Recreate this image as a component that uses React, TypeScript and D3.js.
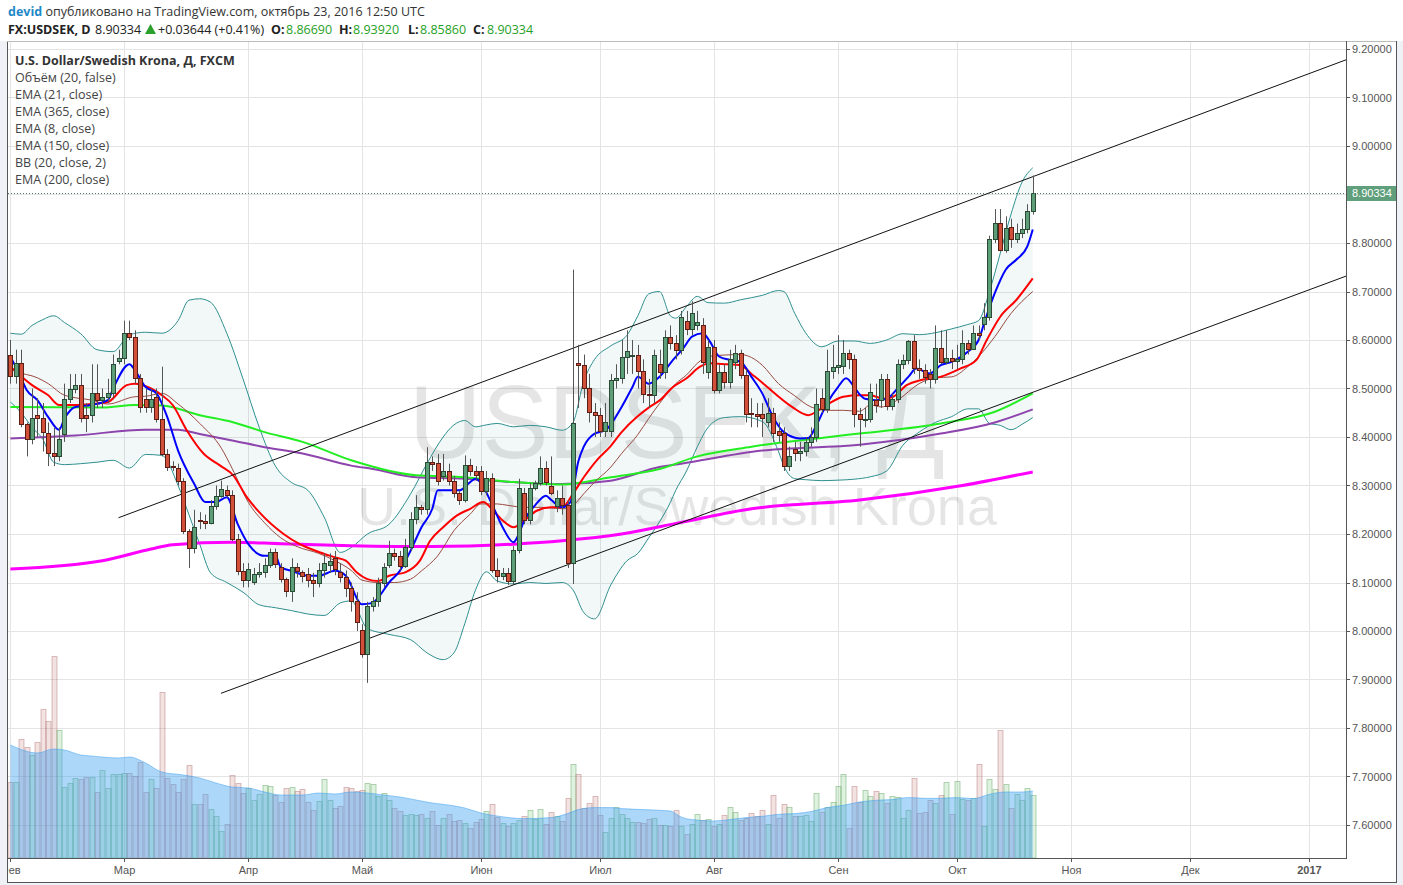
import React from 'react';
import * as d3 from 'd3';

// ---------- DATA ----------
// daily bars Feb 1 2016 .. Oct 21 2016 : [open, high, low, close]
const candles: number[][] = [
  [8.570, 8.600, 8.510, 8.526], [8.526, 8.580, 8.510, 8.552], [8.552, 8.580, 8.420, 8.426], [8.426, 8.430, 8.360, 8.395],
  [8.395, 8.500, 8.385, 8.440], [8.446, 8.480, 8.400, 8.440], [8.440, 8.470, 8.370, 8.410], [8.409, 8.430, 8.340, 8.368],
  [8.368, 8.420, 8.340, 8.361], [8.361, 8.420, 8.350, 8.395], [8.407, 8.510, 8.390, 8.479], [8.479, 8.530, 8.470, 8.498],
  [8.498, 8.530, 8.490, 8.508], [8.508, 8.530, 8.430, 8.440], [8.446, 8.470, 8.410, 8.440], [8.446, 8.550, 8.430, 8.491],
  [8.491, 8.550, 8.460, 8.476], [8.476, 8.500, 8.460, 8.483], [8.483, 8.520, 8.470, 8.491], [8.491, 8.570, 8.480, 8.550],
  [8.557, 8.580, 8.550, 8.562], [8.562, 8.640, 8.550, 8.614], [8.614, 8.640, 8.600, 8.606], [8.606, 8.620, 8.510, 8.521],
  [8.521, 8.530, 8.450, 8.462], [8.479, 8.500, 8.450, 8.462], [8.462, 8.500, 8.450, 8.479], [8.483, 8.500, 8.430, 8.438],
  [8.438, 8.545, 8.360, 8.364], [8.364, 8.375, 8.330, 8.338], [8.341, 8.350, 8.330, 8.338], [8.337, 8.345, 8.300, 8.310],
  [8.310, 8.315, 8.200, 8.206], [8.206, 8.210, 8.130, 8.172], [8.172, 8.250, 8.160, 8.215], [8.229, 8.245, 8.210, 8.226],
  [8.226, 8.240, 8.210, 8.223], [8.223, 8.270, 8.220, 8.257], [8.257, 8.300, 8.250, 8.279], [8.279, 8.310, 8.275, 8.293],
  [8.291, 8.300, 8.275, 8.281], [8.281, 8.290, 8.185, 8.190], [8.190, 8.200, 8.115, 8.124], [8.124, 8.140, 8.090, 8.105],
  [8.105, 8.140, 8.090, 8.128], [8.101, 8.130, 8.095, 8.117], [8.117, 8.140, 8.110, 8.121], [8.121, 8.150, 8.110, 8.137],
  [8.137, 8.170, 8.130, 8.162], [8.162, 8.170, 8.130, 8.138], [8.132, 8.140, 8.100, 8.107], [8.107, 8.110, 8.070, 8.083],
  [8.083, 8.150, 8.060, 8.132], [8.132, 8.140, 8.110, 8.124], [8.121, 8.125, 8.100, 8.114], [8.118, 8.130, 8.090, 8.105],
  [8.105, 8.120, 8.070, 8.100], [8.100, 8.140, 8.090, 8.125], [8.125, 8.160, 8.110, 8.140], [8.137, 8.160, 8.120, 8.145],
  [8.150, 8.165, 8.115, 8.128], [8.121, 8.140, 8.100, 8.112], [8.112, 8.125, 8.070, 8.088], [8.088, 8.100, 8.040, 8.061],
  [8.061, 8.080, 8.000, 8.019], [8.003, 8.014, 7.945, 7.952], [7.952, 8.060, 7.893, 8.052], [8.052, 8.070, 8.040, 8.061],
  [8.061, 8.110, 8.050, 8.100], [8.100, 8.140, 8.090, 8.131], [8.137, 8.186, 8.130, 8.160], [8.160, 8.170, 8.145, 8.154],
  [8.154, 8.165, 8.125, 8.134], [8.134, 8.190, 8.130, 8.174], [8.174, 8.245, 8.165, 8.231], [8.231, 8.280, 8.220, 8.255],
  [8.255, 8.260, 8.240, 8.252], [8.252, 8.379, 8.240, 8.348], [8.348, 8.360, 8.330, 8.345], [8.346, 8.365, 8.300, 8.310],
  [8.319, 8.365, 8.310, 8.330], [8.330, 8.345, 8.300, 8.310], [8.310, 8.320, 8.275, 8.285], [8.285, 8.290, 8.260, 8.270],
  [8.270, 8.362, 8.265, 8.343], [8.343, 8.355, 8.320, 8.329], [8.329, 8.340, 8.310, 8.322], [8.329, 8.340, 8.280, 8.288],
  [8.288, 8.330, 8.280, 8.315], [8.315, 8.325, 8.120, 8.126], [8.126, 8.150, 8.100, 8.114], [8.114, 8.130, 8.105, 8.119],
  [8.119, 8.130, 8.095, 8.103], [8.103, 8.175, 8.095, 8.167], [8.167, 8.314, 8.160, 8.295], [8.285, 8.295, 8.220, 8.229],
  [8.229, 8.305, 8.220, 8.295], [8.295, 8.310, 8.290, 8.305], [8.305, 8.360, 8.300, 8.337], [8.337, 8.350, 8.300, 8.308],
  [8.298, 8.360, 8.280, 8.285], [8.257, 8.290, 8.245, 8.274], [8.274, 8.300, 8.240, 8.259], [8.259, 8.270, 8.130, 8.141],
  [8.141, 8.745, 8.097, 8.428], [8.552, 8.590, 8.460, 8.548], [8.548, 8.570, 8.480, 8.500], [8.500, 8.530, 8.430, 8.452],
  [8.452, 8.470, 8.400, 8.445], [8.445, 8.460, 8.400, 8.412], [8.412, 8.470, 8.400, 8.430], [8.412, 8.530, 8.400, 8.517],
  [8.517, 8.550, 8.500, 8.521], [8.521, 8.600, 8.510, 8.564], [8.564, 8.620, 8.530, 8.577], [8.569, 8.600, 8.530, 8.570],
  [8.570, 8.590, 8.500, 8.536], [8.536, 8.560, 8.470, 8.488], [8.488, 8.520, 8.460, 8.486], [8.486, 8.580, 8.470, 8.569],
  [8.550, 8.580, 8.520, 8.534], [8.534, 8.620, 8.520, 8.607], [8.607, 8.630, 8.580, 8.593], [8.593, 8.610, 8.560, 8.579],
  [8.579, 8.660, 8.570, 8.647], [8.640, 8.660, 8.610, 8.623], [8.623, 8.680, 8.610, 8.655], [8.630, 8.660, 8.620, 8.637],
  [8.630, 8.645, 8.530, 8.554], [8.533, 8.600, 8.520, 8.585], [8.585, 8.600, 8.490, 8.497], [8.497, 8.550, 8.490, 8.533],
  [8.533, 8.550, 8.500, 8.514], [8.514, 8.580, 8.500, 8.561], [8.555, 8.590, 8.540, 8.574], [8.574, 8.580, 8.520, 8.527],
  [8.527, 8.540, 8.430, 8.447], [8.450, 8.480, 8.420, 8.447], [8.448, 8.470, 8.420, 8.443], [8.448, 8.470, 8.400, 8.440],
  [8.431, 8.480, 8.420, 8.450], [8.450, 8.460, 8.390, 8.409], [8.412, 8.430, 8.390, 8.405], [8.409, 8.420, 8.330, 8.340],
  [8.340, 8.380, 8.330, 8.360], [8.376, 8.390, 8.350, 8.368], [8.368, 8.390, 8.350, 8.372], [8.372, 8.400, 8.360, 8.390],
  [8.390, 8.420, 8.380, 8.399], [8.399, 8.500, 8.390, 8.469], [8.481, 8.500, 8.450, 8.457], [8.457, 8.580, 8.450, 8.536],
  [8.536, 8.590, 8.520, 8.545], [8.545, 8.610, 8.530, 8.548], [8.547, 8.600, 8.530, 8.574], [8.574, 8.580, 8.540, 8.561],
  [8.561, 8.570, 8.420, 8.447], [8.447, 8.460, 8.380, 8.437], [8.437, 8.460, 8.420, 8.438], [8.438, 8.510, 8.430, 8.493],
  [8.476, 8.510, 8.450, 8.466], [8.476, 8.530, 8.460, 8.519], [8.519, 8.530, 8.455, 8.464], [8.464, 8.490, 8.455, 8.479],
  [8.479, 8.560, 8.470, 8.550], [8.550, 8.570, 8.540, 8.559], [8.559, 8.600, 8.550, 8.597], [8.597, 8.610, 8.530, 8.543],
  [8.543, 8.560, 8.520, 8.539], [8.539, 8.550, 8.510, 8.524], [8.529, 8.540, 8.500, 8.519], [8.519, 8.630, 8.510, 8.583],
  [8.583, 8.620, 8.550, 8.555], [8.555, 8.620, 8.550, 8.562], [8.562, 8.580, 8.540, 8.557], [8.557, 8.590, 8.540, 8.561],
  [8.561, 8.620, 8.550, 8.593], [8.593, 8.600, 8.570, 8.581], [8.581, 8.630, 8.580, 8.615], [8.615, 8.630, 8.600, 8.610],
  [8.632, 8.676, 8.620, 8.648], [8.648, 8.815, 8.640, 8.808], [8.808, 8.870, 8.800, 8.841], [8.841, 8.870, 8.783, 8.786],
  [8.786, 8.855, 8.780, 8.831], [8.832, 8.850, 8.790, 8.808], [8.808, 8.840, 8.800, 8.821], [8.821, 8.850, 8.810, 8.829],
  [8.829, 8.880, 8.820, 8.867], [8.8669, 8.9392, 8.8586, 8.90334],
];

const volumes: number[] = [
  76, 76, 119, 111, 103, 116, 149, 137, 202, 128, 71, 75, 80, 79, 81, 81, 66, 88, 70, 84,
  84, 85, 85, 82, 96, 66, 79, 70, 166, 80, 74, 66, 79, 93, 54, 54, 64, 49, 42, 27,
  34, 83, 75, 65, 70, 58, 64, 73, 72, 63, 56, 70, 71, 67, 69, 56, 48, 57, 79, 58,
  50, 52, 71, 70, 67, 68, 75, 74, 62, 65, 58, 50, 47, 43, 44, 43, 44, 40, 47, 33,
  40, 44, 37, 38, 35, 30, 36, 39, 47, 54, 41,
  35, 32, 35, 38, 42, 48, 39, 49, 34, 46, 42, 37, 60, 94, 84, 50, 55, 62, 43, 26,
  40, 51, 44, 40, 36, 36, 35, 39, 40, 33, 33, 32, 48, 32, 24, 34, 44, 38, 39, 32,
  34, 43, 51, 46, 38, 40, 45, 42, 48, 34, 63, 40, 54, 51, 42, 42, 43, 37, 65, 46,
  51, 56, 72, 84, 30, 72, 56, 68, 62, 67, 65, 55, 62, 61, 40, 48, 80, 45, 46, 58,
  55, 63, 76, 44, 77, 59, 58, 60, 94, 32, 79, 69, 128, 74, 50, 64, 58, 70, 63,
];

// [barIndex, value] samples
const volumeMa: number[][] = [
  [0, 113], [5, 105], [8, 109], [10, 108], [13, 103], [15, 102], [20, 100], [22, 101], [25, 95], [28, 86],
  [32, 83], [35, 80], [38, 75], [41, 71], [44, 70], [47, 66], [50, 63], [54, 63], [57, 65], [60, 64],
  [63, 66], [66, 65], [69, 63], [72, 61], [75, 58], [78, 55], [81, 53], [84, 50], [87, 45], [90, 42],
  [95, 39.4], [100, 40.4], [103, 44.4], [105, 48.4], [108, 50.4], [111, 50.4], [113, 49.4], [117, 48.4],
  [120, 47.7], [122, 47], [124, 41], [126, 38.4], [130, 37], [133, 38.4], [136, 40.4], [139, 41.7],
  [142, 43.7], [145, 44.4], [148, 46.4], [151, 50.4], [154, 52.7], [157, 56], [160, 57.7], [163, 58.4],
  [166, 60.4], [169, 59.7], [172, 59.7], [175, 60.4], [178, 59.4], [181, 63.7], [184, 66], [187, 66], [189, 67],
];

const ema8: number[][] = [
  [0, 8.565], [1.5, 8.534], [3, 8.497], [5, 8.476], [7, 8.441], [9, 8.415], [10, 8.438], [12, 8.462], [15, 8.466],
  [18, 8.476], [19, 8.5], [22, 8.55], [23, 8.538], [25, 8.503], [27, 8.49], [29, 8.441], [31, 8.372], [34, 8.303],
  [36, 8.266], [38, 8.266], [40, 8.276], [42, 8.221], [44, 8.179], [47, 8.155], [49, 8.155], [50, 8.131], [52, 8.124],
  [55, 8.114], [57, 8.114], [60, 8.124], [62, 8.114], [65, 8.055], [67, 8.058], [68, 8.069], [70, 8.1], [72, 8.124],
  [74, 8.166], [76, 8.214], [78, 8.252], [79, 8.29], [81, 8.29], [83, 8.29], [85, 8.307], [86, 8.314], [87, 8.305],
  [89, 8.262], [91, 8.214], [93, 8.183], [94, 8.2], [95, 8.228], [97, 8.259], [99, 8.279], [100, 8.27], [102, 8.255],
  [103.5, 8.265], [105, 8.35], [106, 8.38], [108, 8.407], [110, 8.414], [113, 8.462], [115, 8.503], [116, 8.524],
  [118, 8.51], [120, 8.524], [122.5, 8.559], [124.4, 8.583], [126, 8.607], [128, 8.614], [129.3, 8.597], [131, 8.566],
  [133, 8.559], [135, 8.555], [137, 8.524], [139, 8.49], [141, 8.441], [143, 8.41], [146, 8.397], [147.5, 8.398],
  [149, 8.424], [151, 8.47], [153, 8.503], [154.5, 8.521], [156, 8.503], [157, 8.488], [158, 8.479], [160, 8.476],
  [162, 8.479], [164, 8.5], [166, 8.524], [167.5, 8.541], [170, 8.531], [172, 8.548], [174, 8.555], [177, 8.576],
  [179, 8.6], [180, 8.634], [182, 8.697], [184, 8.745], [186, 8.766], [188, 8.793], [189, 8.828],
];

const ema21: number[][] = [
  [0, 8.545], [1.5, 8.53], [4, 8.507], [7, 8.486], [9, 8.466], [12, 8.466], [15, 8.468], [18, 8.472], [21.5, 8.507],
  [23, 8.51], [26, 8.5], [28, 8.486], [30, 8.466], [32.6, 8.414], [35.7, 8.366], [38.8, 8.341], [41.2, 8.321],
  [43.7, 8.276], [46, 8.245], [50.5, 8.2], [53.5, 8.179], [57, 8.163], [60, 8.152], [62, 8.145], [64, 8.121],
  [66, 8.107], [68, 8.103], [70, 8.114], [73, 8.121], [75.7, 8.145], [77.6, 8.186], [80, 8.214], [82.5, 8.238],
  [85, 8.252], [87.4, 8.266], [89.3, 8.248], [91, 8.228], [93, 8.214], [95, 8.228], [97.3, 8.248], [100, 8.255],
  [102, 8.255], [104, 8.283], [106, 8.317], [108.4, 8.352], [110.8, 8.379], [113, 8.41], [115.8, 8.441],
  [118.2, 8.462], [120.1, 8.476], [122.5, 8.503], [125, 8.521], [127.5, 8.545], [129.3, 8.552], [132.4, 8.55],
  [135, 8.548], [137, 8.53], [139, 8.512], [141.5, 8.488], [144.5, 8.462], [147.5, 8.445], [149.5, 8.456],
  [151.5, 8.47], [154, 8.483], [157, 8.486], [159, 8.486], [161.4, 8.479], [163.2, 8.483], [165.7, 8.507],
  [168.2, 8.517], [171.9, 8.524], [175.6, 8.541], [178.6, 8.559], [180.5, 8.6], [183, 8.648], [186, 8.683], [189, 8.727],
];

// Bollinger basis (SMA 20)
const bbBasis: number[][] = [
  [0, 8.54], [1, 8.535], [5, 8.522], [7, 8.51], [10, 8.486], [15, 8.476], [18, 8.468], [23, 8.483], [25, 8.484],
  [28, 8.49], [31, 8.468], [35, 8.428], [39, 8.377], [41, 8.335], [44, 8.265], [47, 8.223], [50, 8.192], [53, 8.174],
  [57, 8.16], [60, 8.145], [63, 8.125], [65, 8.105], [68, 8.1], [71, 8.1], [74, 8.107], [76, 8.124], [79, 8.155],
  [82, 8.207], [85, 8.241], [87, 8.262], [90, 8.262], [92, 8.259], [95, 8.255], [98, 8.255], [102, 8.252],
  [104, 8.259], [106, 8.283], [108, 8.307], [111, 8.338], [113, 8.366], [116, 8.405], [118, 8.438], [120, 8.469],
  [123, 8.51], [125, 8.528], [127, 8.552], [129, 8.566], [132, 8.569], [135, 8.57], [137, 8.564], [139, 8.548],
  [142, 8.51], [145, 8.485], [148, 8.462], [151, 8.455], [154, 8.455], [157, 8.453], [159, 8.466], [161, 8.462],
  [164, 8.476], [168, 8.51], [171, 8.522], [174, 8.524], [177, 8.545], [179, 8.566], [182, 8.607], [185, 8.655], [189, 8.7],
];

const bbIndex: number[] = [
  0, 2, 4, 6, 8, 10, 13, 16, 19, 22, 25, 28, 31, 33, 35, 37, 40, 43, 46, 49, 52, 55, 58, 61, 63, 66, 70, 74, 77, 80,
  82, 84, 86, 88, 90, 93, 96, 99, 102, 104, 106, 108, 111, 114, 116, 118, 120, 122, 123, 125, 127, 129, 132, 135,
  139, 142, 143, 145, 147, 150, 153, 156, 159, 162, 165, 168, 171, 174, 177, 179, 181, 183, 185, 187, 189,
];
const bbUpper: number[] = [
  8.614, 8.612, 8.630, 8.642, 8.650, 8.636, 8.613, 8.580, 8.576, 8.611, 8.616, 8.614, 8.640, 8.682, 8.685, 8.678,
  8.614, 8.520, 8.420, 8.340, 8.306, 8.290, 8.235, 8.162, 8.172, 8.200, 8.220, 8.283, 8.345, 8.400, 8.425, 8.434,
  8.421, 8.425, 8.428, 8.421, 8.424, 8.421, 8.414, 8.430, 8.515, 8.560, 8.588, 8.610, 8.650, 8.695, 8.700, 8.650,
  8.645, 8.669, 8.690, 8.677, 8.676, 8.683, 8.692, 8.702, 8.700, 8.655, 8.615, 8.586, 8.598, 8.598, 8.593, 8.600,
  8.613, 8.611, 8.615, 8.623, 8.632, 8.640, 8.700, 8.779, 8.860, 8.925, 8.955,
];
const bbLower: number[] = [
  8.472, 8.450, 8.420, 8.395, 8.348, 8.343, 8.345, 8.348, 8.352, 8.336, 8.364, 8.362, 8.300, 8.240, 8.179, 8.120,
  8.100, 8.080, 8.054, 8.048, 8.042, 8.035, 8.032, 8.058, 8.062, 8.005, 7.993, 7.982, 7.955, 7.941, 7.955, 8.015,
  8.085, 8.122, 8.103, 8.097, 8.100, 8.098, 8.100, 8.085, 8.038, 8.025, 8.095, 8.145, 8.160, 8.192, 8.225, 8.265,
  8.290, 8.330, 8.380, 8.420, 8.440, 8.442, 8.432, 8.370, 8.340, 8.314, 8.312, 8.310, 8.311, 8.313, 8.318, 8.330,
  8.383, 8.410, 8.430, 8.442, 8.458, 8.458, 8.428, 8.424, 8.415, 8.426, 8.440,
];

const ema150: number[][] = [
  [0, 8.462], [17, 8.461], [23, 8.466], [28, 8.465], [35, 8.445], [41, 8.431], [47, 8.41], [54, 8.39], [63, 8.352],
  [75, 8.321], [84, 8.317], [93, 8.307], [102, 8.302], [111, 8.317], [120, 8.334], [127, 8.36], [137, 8.38],
  [157, 8.407], [172, 8.428], [182, 8.452], [189, 8.49],
];
const ema200: number[][] = [
  [0, 8.397], [12, 8.403], [25, 8.415], [31, 8.415], [35, 8.406], [41, 8.393], [47, 8.379], [54, 8.366], [63, 8.341],
  [67, 8.334], [75, 8.317], [84, 8.314], [93, 8.307], [102, 8.303], [111, 8.31], [120, 8.338], [124, 8.345],
  [139, 8.372], [157, 8.384], [172, 8.407], [182, 8.43], [189, 8.457],
];
const ema365: number[][] = [
  [0, 8.128], [17, 8.145], [26, 8.169], [30, 8.178], [41, 8.183], [50, 8.18], [63, 8.176], [78, 8.174], [93, 8.179],
  [102, 8.186], [113, 8.2], [124, 8.224], [137, 8.252], [157, 8.27], [176, 8.3], [189, 8.328],
];

// hand-drawn channel: [barIndex, price]
const channelUpper: number[][] = [[20, 8.2336], [247, 9.178]];
const channelLower: number[][] = [[38.93, 7.8715], [247, 8.732]];

const monthLabels: string[] = ['Фев', 'Мар', 'Апр', 'Май', 'Июн', 'Июл', 'Авг', 'Сен', 'Окт', 'Ноя', 'Дек', '2017'];
const priceTicks: number[] = [7.6, 7.7, 7.8, 7.9, 8.0, 8.1, 8.2, 8.3, 8.4, 8.5, 8.6, 8.7, 8.8, 8.9, 9.0, 9.1, 9.2];
const lastPrice = 8.90334;

const legendItems: string[] = [
  'Объём (20, false)', 'EMA (21, close)', 'EMA (365, close)', 'EMA (8, close)',
  'EMA (150, close)', 'BB (20, close, 2)', 'EMA (200, close)',
];

// ---------- LAYOUT ----------
const W = 1403;
const H = 885;
const PL = 8, PR = 1346, PT = 42, PB = 858;
const UI = "'Open Sans', 'DejaVu Sans', sans-serif";
const AX = "'Liberation Sans', Arial, sans-serif";

export default function App() {
  const x = d3.scaleLinear().domain([0, 240]).range([10.4, 1308.6]);
  const y = d3.scaleLinear().domain([7.6, 9.2]).range([825, 49]);
  const yv = d3.scaleLinear().domain([0, 250]).range([PB, PB - 250]);

  const tradingDays = d3.timeDay
    .range(new Date(2016, 1, 1), new Date(2017, 0, 3))
    .filter((d) => d.getDay() !== 0 && d.getDay() !== 6);
  const monthStarts: number[] = [];
  tradingDays.forEach((d, i) => {
    if (i === 0 || d.getMonth() !== tradingDays[i - 1].getMonth()) monthStarts.push(i);
  });

  const line = d3
    .line<number[]>()
    .x((d) => x(d[0]))
    .y((d) => y(d[1]))
    .curve(d3.curveMonotoneX);
  const straight = d3.line<number[]>().x((d) => x(d[0])).y((d) => y(d[1]));

  const bbArea = d3
    .area<number>()
    .x((_, k) => x(bbIndex[k]))
    .y0((_, k) => y(bbLower[k]))
    .y1((_, k) => y(bbUpper[k]))
    .curve(d3.curveMonotoneX);
  const bbUpLine = d3.line<number>().x((_, k) => x(bbIndex[k])).y((d) => y(d)).curve(d3.curveMonotoneX);

  const volArea = d3
    .area<number[]>()
    .x((d) => x(d[0]))
    .y0(yv(0))
    .y1((d) => yv(d[1]))
    .curve(d3.curveMonotoneX);
  const volLine = d3.line<number[]>().x((d) => x(d[0])).y((d) => yv(d[1])).curve(d3.curveMonotoneX);

  const cx = (i: number) => Math.round(x(i)) + 0.5;

  return (
    <svg width={W} height={H} style={{ position: 'absolute', left: 0, top: 0, display: 'block' }}>
      <defs>
        <clipPath id="plot">
          <rect x={PL} y={PT} width={PR - PL} height={PB - PT} />
        </clipPath>
        <clipPath id="taxis">
          <rect x={PL} y={PB} width={PR - PL} height={24} />
        </clipPath>
      </defs>
      <rect x={0} y={0} width={W} height={H} fill="#eef1f5" />
      <rect x={0} y={0} width={W} height={41} fill="#ffffff" />
      <rect x={7} y={41} width={1389} height={841} fill="#ffffff" />

      <g clipPath="url(#plot)">
        {/* grid */}
        {priceTicks.map((p) => (
          <line key={'h' + p} x1={PL} x2={PR} y1={Math.round(y(p)) + 0.5} y2={Math.round(y(p)) + 0.5} stroke="#e4e4e4" />
        ))}
        {monthStarts.map((i) => (
          <line key={'v' + i} x1={cx(i)} x2={cx(i)} y1={PT} y2={PB} stroke="#e4e4e4" />
        ))}

        {/* watermark */}
        <text x={677} y={458} textAnchor="middle" fontFamily={AX} fontSize={104} fill="rgba(0,0,0,0.10)"
          textLength={536} lengthAdjust="spacingAndGlyphs">USDSEK, Д</text>
        <text x={677} y={525} textAnchor="middle" fontFamily={AX} fontSize={53} fill="rgba(0,0,0,0.10)"
          textLength={640} lengthAdjust="spacingAndGlyphs">U.S. Dollar/Swedish Krona</text>

        {/* volume */}
        {volumes.map((v, i) => {
          const up = candles[i][3] >= candles[i][0];
          const top = Math.round(yv(v)) + 0.5;
          return (
            <rect key={'vol' + i} x={cx(i) - 2.5} y={top} width={5} height={PB - top}
              fill={up ? 'rgba(110,190,110,0.22)' : 'rgba(190,110,110,0.2)'}
              stroke={up ? 'rgba(90,160,90,0.45)' : 'rgba(170,100,100,0.4)'} strokeWidth={1} />
          );
        })}
        <path d={volArea(volumeMa) || ''} fill="rgba(60,160,240,0.42)" />
        <path d={volLine(volumeMa) || ''} fill="none" stroke="rgba(60,160,240,0.5)" strokeWidth={1} />

        {/* Bollinger */}
        <path d={bbArea(bbUpper) || ''} fill="rgba(40,140,140,0.06)" />
        <path d={bbUpLine(bbUpper) || ''} fill="none" stroke="#2f8f8f" strokeWidth={1} />
        <path d={bbUpLine(bbLower) || ''} fill="none" stroke="#2f8f8f" strokeWidth={1} />

        {/* moving averages */}
        <path d={line(ema365) || ''} fill="none" stroke="#ff00ff" strokeWidth={3} />
        <path d={line(ema200) || ''} fill="none" stroke="#8e44ad" strokeWidth={2} />
        <path d={line(ema150) || ''} fill="none" stroke="#22ee22" strokeWidth={2} />
        <path d={line(bbBasis) || ''} fill="none" stroke="#9a4a40" strokeWidth={1} />
        <path d={line(ema21) || ''} fill="none" stroke="#ff0000" strokeWidth={2} />
        <path d={line(ema8) || ''} fill="none" stroke="#0000ff" strokeWidth={2} />

        {/* channel */}
        <path d={straight(channelUpper) || ''} fill="none" stroke="#111" strokeWidth={1} />
        <path d={straight(channelLower) || ''} fill="none" stroke="#111" strokeWidth={1} />

        {/* candles */}
        {candles.map((c, i) => {
          const [o, h, l, cl] = c;
          const up = cl >= o;
          const px = cx(i);
          const yt = Math.round(y(Math.max(o, cl)));
          const yb = Math.round(y(Math.min(o, cl)));
          return (
            <g key={'c' + i}>
              <line x1={px} x2={px} y1={y(h)} y2={y(l)} stroke="#555" strokeWidth={1} />
              <rect x={px - 2} y={yt + 0.5} width={4} height={Math.max(1, yb - yt)}
                fill={up ? '#5c9e78' : '#d2503a'} stroke={up ? '#2b4a36' : '#5a1e14'} strokeWidth={1} />
            </g>
          );
        })}

        {/* last price line */}
        <line x1={PL} x2={PR} y1={Math.round(y(lastPrice)) + 0.5} y2={Math.round(y(lastPrice)) + 0.5}
          stroke="#4f7d63" strokeDasharray="1 2" strokeWidth={1} />
      </g>

      {/* frame */}
      <line x1={7.5} x2={7.5} y1={41} y2={883} stroke="#555" />
      <line x1={7} x2={1397} y1={41.5} y2={41.5} stroke="#bbb" />
      <line x1={1396.5} x2={1396.5} y1={41} y2={883} stroke="#555" />
      <line x1={7} x2={1397} y1={882.5} y2={882.5} stroke="#555" />
      <line x1={PR + 0.5} x2={PR + 0.5} y1={41} y2={PB} stroke="#555" />
      <line x1={7} x2={PR + 1} y1={PB + 0.5} y2={PB + 0.5} stroke="#555" />

      {/* price axis */}
      {priceTicks.map((p) => (
        <g key={'pt' + p}>
          <line x1={PR} x2={PR + 4} y1={Math.round(y(p)) + 0.5} y2={Math.round(y(p)) + 0.5} stroke="#555" />
          <text x={1352} y={y(p) + 4} fontFamily={AX} fontSize={11} fill="#555">{p.toFixed(5)}</text>
        </g>
      ))}
      <rect x={PR + 1} y={Math.round(y(lastPrice)) - 7} width={49} height={15} fill="#5f9f7b" />
      <text x={1352} y={y(lastPrice) + 4} fontFamily={AX} fontSize={11} fill="#ffffff">{lastPrice.toFixed(5)}</text>

      {/* time axis */}
      <g clipPath="url(#taxis)">
        {monthStarts.map((i, k) => (
          <g key={'mt' + i}>
            <line x1={cx(i)} x2={cx(i)} y1={PB} y2={PB + 4} stroke="#555" />
            <text x={cx(i)} y={874} textAnchor="middle" fontFamily={AX} fontSize={11}
              fontWeight={monthLabels[k] === '2017' ? 'bold' : 'normal'} fill="#555">{monthLabels[k]}</text>
          </g>
        ))}
      </g>

      {/* header */}
      <text x={8} y={16} fontFamily={UI} fontSize={12.5} fill="#333">
        <tspan fill="#1e88c8" fontWeight="bold">devid</tspan>
        <tspan> опубликовано на TradingView.com, октябрь 23, 2016 12:50 UTC</tspan>
      </text>
      <g fontFamily={UI} fontSize={12.5}>
        <text x={8} y={34} fontWeight="bold" fill="#222">FX:USDSEK, D</text>
        <text x={95} y={34} fill="#222">8.90334</text>
        <path d="M145,34 L150.5,24 L156,34 Z" fill="#2ca02c" />
        <text x={158} y={34} fill="#222">+0.03644 (+0.41%)</text>
        <text x={271} y={34} fontWeight="bold" fill="#222">O:</text>
        <text x={286} y={34} fill="#27a127">8.86690</text>
        <text x={339} y={34} fontWeight="bold" fill="#222">H:</text>
        <text x={353} y={34} fill="#27a127">8.93920</text>
        <text x={408} y={34} fontWeight="bold" fill="#222">L:</text>
        <text x={420} y={34} fill="#27a127">8.85860</text>
        <text x={473} y={34} fontWeight="bold" fill="#222">C:</text>
        <text x={487} y={34} fill="#27a127">8.90334</text>
      </g>

      {/* legend */}
      <g fontFamily={UI} fontSize={12.5} fill="#444">
        <text x={15} y={65} fontWeight="bold" fill="#333">U.S. Dollar/Swedish Krona, Д, FXCM</text>
        {legendItems.map((t, k) => (
          <text key={t} x={15} y={82 + k * 17}>{t}</text>
        ))}
      </g>
    </svg>
  );
}
